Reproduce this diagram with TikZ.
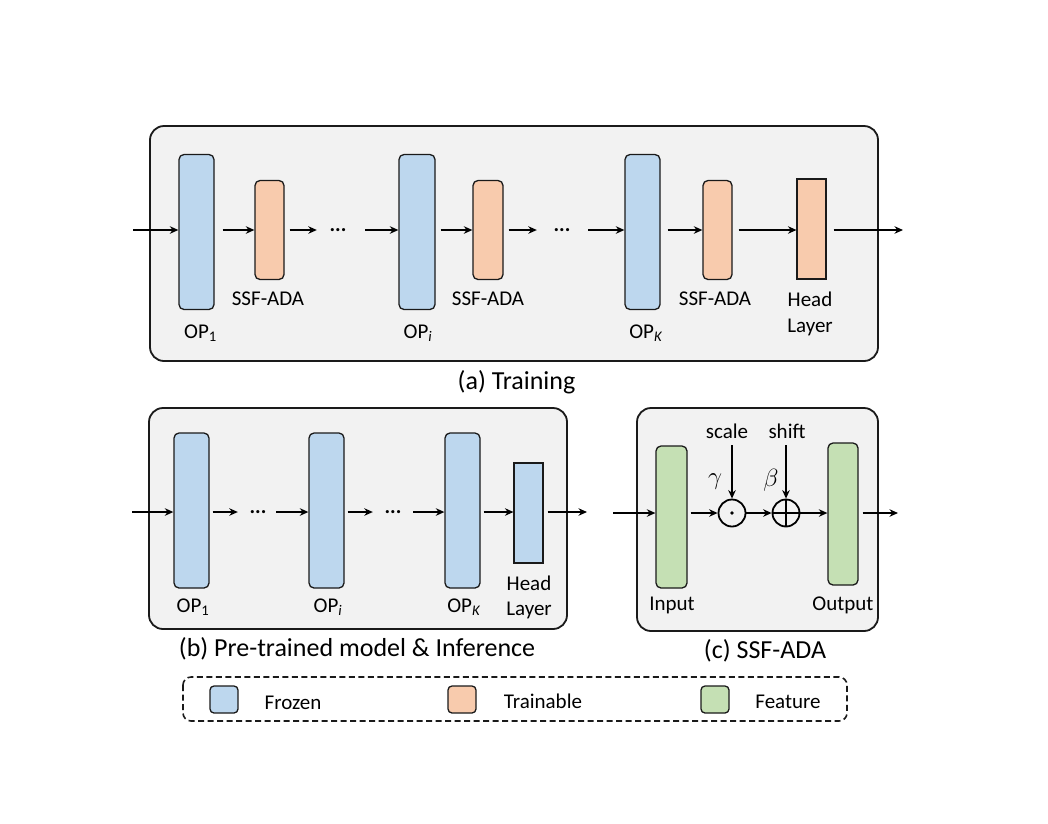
\documentclass[tikz,border=0pt]{standalone}
\usepackage{fontspec}
\setmainfont{Carlito}
\usetikzlibrary{arrows.meta}
\definecolor{panelF}{HTML}{F2F2F2}
\definecolor{blueF}{HTML}{BDD7EE}
\definecolor{orangeF}{HTML}{F8CBAD}
\definecolor{greenF}{HTML}{C5E0B4}
\definecolor{lineC}{HTML}{1A1A1A}
\tikzset{
  panel/.style={draw=lineC, fill=panelF, line width=1.8pt, rounded corners=14pt},
  blk/.style={draw=lineC, line width=1.3pt, rounded corners=5pt, inner sep=0pt, anchor=center},
  frozen/.style={blk, fill=blueF},
  train/.style={blk, fill=orangeF},
  feat/.style={blk, fill=greenF},
  headbox/.style={draw=lineC, line width=1.1pt, inner sep=0pt, anchor=center},
  arr/.style={draw=black, line width=1.9pt, -{Stealth[length=8.5pt,width=7.5pt]}},
  lbl/.style={inner sep=0pt, anchor=base, font=\fontsize{21}{24}\selectfont},
  captext/.style={inner sep=0pt, anchor=base, font=\fontsize{26}{30}\selectfont},
  dotsn/.style={inner sep=0pt, anchor=center, font=\fontsize{21}{24}\selectfont\bfseries},
  opnode/.style={draw=black, line width=1.8pt, circle, minimum size=27pt, inner sep=0pt}
}
\begin{document}
\begin{tikzpicture}[x=1pt,y=-1pt]
\useasboundingbox (0,0) rectangle (1048,823);

% ---------- (a) Training ----------
\draw[panel] (150,126) rectangle (878,361);
\coordinate (ain) at (133,230);
\coordinate (aout) at (903,230);
\node[frozen, minimum width=35pt, minimum height=155pt] (aop1) at (196.5,232) {};
\node[train, minimum width=29pt, minimum height=99pt] (as1) at (269.5,230) {};
\node[dotsn, minimum width=42pt] (ad1) at (338,230) {...};
\node[frozen, minimum width=36pt, minimum height=155pt] (aopi) at (417,232) {};
\node[train, minimum width=30pt, minimum height=99pt] (asi) at (488,230) {};
\node[dotsn, minimum width=50pt] (ad2) at (562,230) {...};
\node[frozen, minimum width=35pt, minimum height=155pt] (aopk) at (642.5,232) {};
\node[train, minimum width=29pt, minimum height=99pt] (ask) at (717.5,230) {};
\node[headbox, fill=orangeF, minimum width=29pt, minimum height=100pt] (ahead) at (811.5,229) {};

\draw[arr] (ain) -- (ain -| aop1.west);
\draw[arr, shorten <=8pt] (ain -| aop1.east) -- (ain -| as1.west);
\draw[arr, shorten <=5pt] (ain -| as1.east) -- (ain -| ad1.west);
\draw[arr, shorten <=6pt] (ain -| ad1.east) -- (ain -| aopi.west);
\draw[arr, shorten <=5pt] (ain -| aopi.east) -- (ain -| asi.west);
\draw[arr, shorten <=5pt] (ain -| asi.east) -- (ain -| ad2.west);
\draw[arr, shorten <=1pt] (ain -| ad2.east) -- (ain -| aopk.west);
\draw[arr, shorten <=7pt] (ain -| aopk.east) -- (ain -| ask.west);
\draw[arr, shorten <=6pt] (ain -| ask.east) -- (ain -| ahead.west);
\draw[arr, shorten <=7pt] (ain -| ahead.east) -- (aout);

\node[lbl] (la1) at (200.5,338) {OP\textsubscript{1}};
\node[lbl] (lai) at (418,338) {OP\textsubscript{\textit{i}}};
\node[lbl] (lak) at (646,338) {OP\textsubscript{\textit{K}}};
\node[lbl] (las1) at (268,305) {SSF-ADA};
\node[lbl] (lasi) at (488,305) {SSF-ADA};
\node[lbl] (lask) at (715,305) {SSF-ADA};
\node[lbl] (lah1) at (810,306) {Head};
\node[lbl] (lah2) at (810,332) {Layer};
\node[captext] (capa) at (516.5,389) {(a) Training};

% ---------- (b) Pre-trained ----------
\draw[panel] (149,408) rectangle (567,629);
\coordinate (bin) at (132,512);
\coordinate (bout) at (587,512);
\node[frozen, minimum width=35pt, minimum height=155pt] (bop1) at (191.5,510.5) {};
\node[dotsn, minimum width=40pt] (bd1) at (258,512) {...};
\node[frozen, minimum width=35pt, minimum height=155pt] (bopi) at (326.5,510.5) {};
\node[dotsn, minimum width=40pt] (bd2) at (393,512) {...};
\node[frozen, minimum width=35pt, minimum height=155pt] (bopk) at (462.5,510.5) {};
\node[headbox, fill=blueF, minimum width=29pt, minimum height=100pt] (bhead) at (528.5,513) {};

\draw[arr] (bin) -- (bin -| bop1.west);
\draw[arr, shorten <=3pt] (bin -| bop1.east) -- (bin -| bd1.west);
\draw[arr, shorten <=-2pt] (bin -| bd1.east) -- (bin -| bopi.west);
\draw[arr, shorten <=3pt] (bin -| bopi.east) -- (bin -| bd2.west);
\draw[arr, shorten <=0pt] (bin -| bd2.east) -- (bin -| bopk.west);
\draw[arr, shorten <=3pt] (bin -| bopk.east) -- (bin -| bhead.west);
\draw[arr, shorten <=4pt] (bin -| bhead.east) -- (bout);

\node[lbl] (lb1) at (193,612) {OP\textsubscript{1}};
\node[lbl] (lbi) at (328,612) {OP\textsubscript{\textit{i}}};
\node[lbl] (lbk) at (464,612) {OP\textsubscript{\textit{K}}};
\node[lbl] (lbh1) at (529,590) {Head};
\node[lbl] (lbh2) at (529,615) {Layer};
\node[captext] (capb) at (357,656) {(b) Pre-trained model \& Inference};

% ---------- (c) SSF-ADA ----------
\draw[panel] (637,408) rectangle (878,631);
\coordinate (cin) at (613,513);
\coordinate (cout) at (898,513);
\node[feat, minimum width=31pt, minimum height=142pt] (cinp) at (671.5,517) {};
\node[feat, minimum width=30pt, minimum height=142pt] (coutp) at (843,514) {};
\node[opnode] (mul) at (732,513) {};
\node[opnode] (add) at (786,513) {};
\fill (mul.center) circle (1.9pt);
\draw[line width=1.8pt] (add.north) -- (add.south) (add.west) -- (add.east);

\node[lbl] (scl) at (727,438) {scale};
\node[lbl] (shf) at (787,438) {shift};
\coordinate (sclb) at (732,445);
\coordinate (shfb) at (786,445);
\draw[arr] (sclb) -- (mul.north);
\draw[arr] (shfb) -- (add.north);
\node[inner sep=0pt, font=\fontsize{24}{26}\selectfont] (gam) at (715,482) {$\gamma$};
\node[inner sep=0pt, font=\fontsize{24}{26}\selectfont] (bet) at (771,480) {$\beta$};

\draw[arr] (cin) -- (cin -| cinp.west);
\draw[arr, shorten <=3pt] (cin -| cinp.east) -- (mul.west);
\draw[arr] (mul.east) -- (add.west);
\draw[arr] (add.east) -- (cin -| coutp.west);
\draw[arr, shorten <=4pt] (cin -| coutp.east) -- (cout);

\node[lbl] (lin) at (672,610) {Input};
\node[lbl] (lout) at (843,610) {Output};
\node[captext] (capc) at (765,658) {(c) SSF-ADA};

% ---------- legend ----------
\draw[draw=lineC, line width=1.6pt, dash pattern=on 6pt off 3.5pt, rounded corners=8pt] (183,677) rectangle (847,721);
\node[frozen, rounded corners=4pt, minimum width=28pt, minimum height=27pt] (kf) at (224,699.5) {};
\node[train, rounded corners=4pt, minimum width=28pt, minimum height=27pt] (kt) at (462,699.5) {};
\node[feat, rounded corners=4pt, minimum width=28pt, minimum height=27pt] (kg) at (715,699.5) {};
\node[lbl] (tf) at (293,709) {Frozen};
\node[lbl] (tt) at (543,708) {Trainable};
\node[lbl] (tg) at (788,708) {Feature};
\end{tikzpicture}
\end{document}
